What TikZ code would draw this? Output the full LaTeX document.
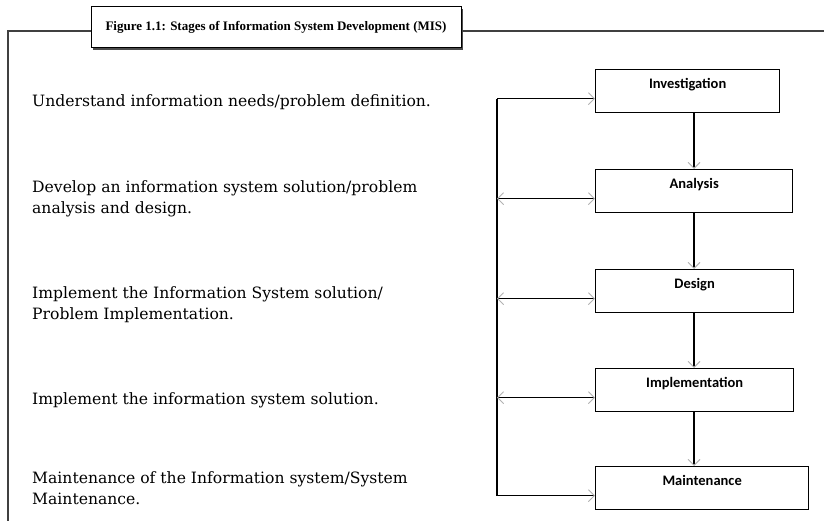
\documentclass[tikz,border=0pt]{standalone}
\usepackage{fontspec}
\usepackage{tikz}
\usetikzlibrary{arrows.meta,shadows}
\newfontfamily\descfont{DejaVu Serif}
\newfontfamily\stagefont{Carlito}
\newfontfamily\titlefont{Liberation Serif}

\tikzset{
  stage/.style={draw, line width=1.3pt, anchor=north west, inner xsep=0pt, inner ysep=0pt,
    text height=19pt, text depth=24pt, font=\stagefont\bfseries\fontsize{14.5}{16}\selectfont},
  desc/.style={anchor=west, align=left, inner sep=0pt, font=\descfont\fontsize{15.6}{21}\selectfont},
  barb/.tip={Straight Barb[length=6pt,width=12pt,line width=0.9pt,color=gray!60]},
  link/.style={line width=1.1pt},
  frame/.style={line width=1.6pt, draw=black!75}
}

\begin{document}
\begin{tikzpicture}[x=1pt,y=-1pt]
  \useasboundingbox[fill=white] (0,0) rectangle (824,521);
    % heading
    \node[draw, line width=1pt, fill=white, minimum width=370pt, minimum height=41pt,
      drop shadow={shadow xshift=2pt, shadow yshift=-2pt, fill=black!70, opacity=1},
      font=\titlefont\bfseries\fontsize{13}{15}\selectfont] (title) at (276,27.5)
      {Figure 1.1: Stages of Information System Development (MIS)};
    \coordinate (fl) at (8,31);
    \draw[frame] (title.west |- fl) -| (8,521);
    \draw[frame] (title.east |- fl) -- (824,31);
    % stages
    \node[stage, minimum width=184pt] (inv) at (595,69) {Investigation};
    \node[stage, minimum width=197pt] (ana) at (595,169) {Analysis};
    \node[stage, minimum width=198pt] (des) at (595,269) {Design};
    \node[stage, minimum width=198pt] (imp) at (595,368) {Implementation};
    \node[stage, minimum width=213pt] (mnt) at (595,466) {Maintenance};
    % descriptions
    \node[desc] (d1) at (32,102) {Understand information needs/problem definition.};
    \node[desc] (d2) at (32,198.5) {Develop an information system solution/problem\\analysis and design.};
    \node[desc] (d3) at (32,304.5) {Implement the Information System solution/\\Problem Implementation.};
    \node[desc] (d4) at (32,400) {Implement the information system solution.};
    \node[desc] (d5) at (32,488) {Maintenance of the Information system/System\\Maintenance.};
    % connectors
    \coordinate (bus) at (497,0);
    \coordinate (spine) at (694,0);
    \foreach \n in {inv,ana,des,imp,mnt}
      \coordinate (\n-in) at ([yshift=-7.5pt]\n.west);
    \draw[link] (inv-in -| bus) -- (mnt-in -| bus);
    \draw[link,-barb] (inv-in -| bus) -- (inv-in);
    \draw[link,-barb] (mnt-in -| bus) -- (mnt-in);
    \foreach \n in {ana,des,imp}
      \draw[link,barb-barb] (\n-in -| bus) -- (\n-in);
    \draw[link,-barb] (inv.south -| spine) -- (ana.north -| spine);
    \draw[link,-barb] (ana.south -| spine) -- (des.north -| spine);
    \draw[link,-barb] (des.south -| spine) -- (imp.north -| spine);
    \draw[link,-barb] (imp.south -| spine) -- (mnt.north -| spine);
  \end{tikzpicture}
\end{document}
